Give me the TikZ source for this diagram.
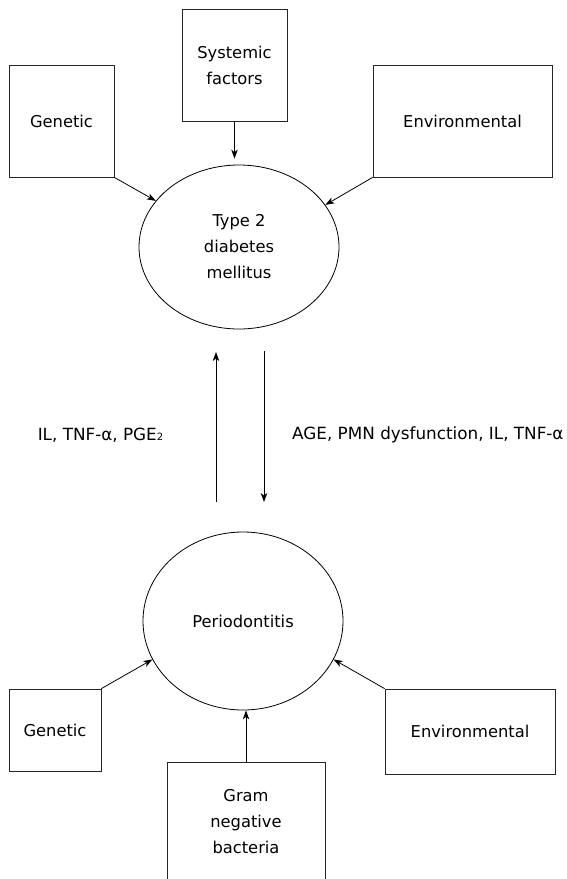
\documentclass[tikz,border=0pt]{standalone}
\usepackage{fontspec}
\setmainfont{DejaVu Sans}
\usetikzlibrary{arrows.meta,shapes.geometric}
\begin{document}
\begin{tikzpicture}[x=1pt,y=-1pt,
  box/.style={draw=black!85, line width=0.8pt, inner sep=0pt, align=center,
    font=\fontsize{16.3}{26}\selectfont},
  oval/.style={draw=black, line width=0.8pt, ellipse, inner sep=0pt, align=center,
    font=\fontsize{16.3}{26}\selectfont},
  lbl/.style={inner sep=0pt, font=\fontsize{16.8}{26}\selectfont},
  arr/.style={-{Stealth[length=9pt,width=6.5pt,inset=2.5pt]}, line width=0.8pt}]
\fill[white] (0,0) rectangle (566,879);
\useasboundingbox (0,0) rectangle (566,879);
% top part
\node[box, minimum width=105pt, minimum height=112pt] (sys) at (234.5,65) {Systemic\\factors};
\node[box, minimum width=105pt, minimum height=112pt] (gen1) at (61.5,121) {Genetic};
\node[box, minimum width=179pt, minimum height=112pt] (env1) at (462.5,121) {Environmental};
\node[oval, minimum width=200pt, minimum height=164pt] (t2dm) at (239,247) {Type 2\\diabetes\\mellitus};
\draw[arr] (sys.south) -- ([yshift=6pt]sys.south |- t2dm.north);
\draw[arr] (gen1.south east) -- (t2dm.151);
\draw[arr] (env1.south west) -- (t2dm.26);
% middle
\coordinate (u1) at (216,502);
\coordinate (u2) at (216,352);
\coordinate (d1) at (264,351);
\coordinate (d2) at (264,502);
\draw[arr] (u1) -- (u2);
\draw[arr] (d1) -- (d2);
\node[lbl] (lab1) at (100.5,435) {IL, TNF-α, PGE{\fontsize{10}{10}\selectfont 2}};
\node[lbl, anchor=west] (lab2) at (292,435) {AGE, PMN dysfunction, IL, TNF-α};
% bottom part
\node[oval, minimum width=200pt, minimum height=178pt] (perio) at (243,621) {Periodontitis};
\node[box, minimum width=92pt, minimum height=82pt] (gen2) at (55,730) {Genetic};
\node[box, minimum width=170pt, minimum height=85pt] (env2) at (470,731.5) {Environmental};
\node[box, minimum width=158pt, minimum height=120pt] (gram) at (246,822) {Gram\\negative\\bacteria};
\draw[arr] (gen2.north east) -- (perio.203);
\draw[arr] (env2.north west) -- (perio.337);
\draw[arr] (gram.north) -- (gram.north |- perio.south);
\end{tikzpicture}
\end{document}
